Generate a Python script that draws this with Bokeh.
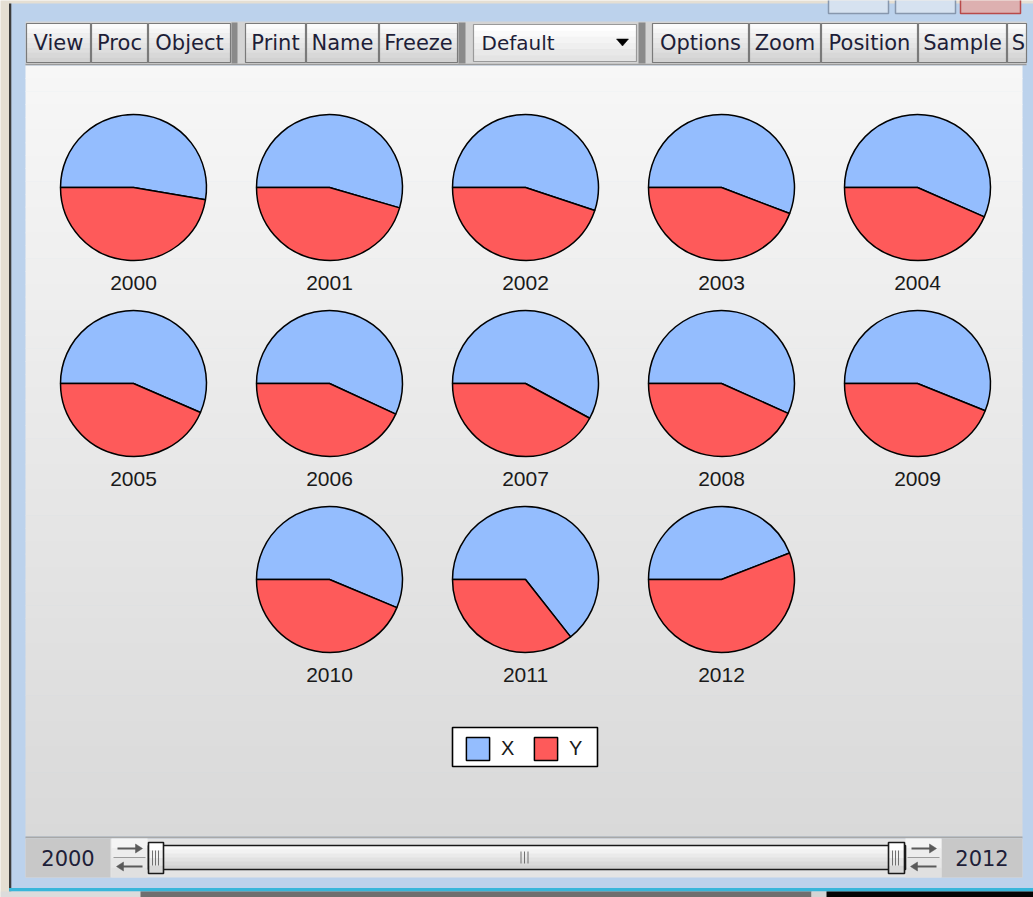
import math
from bokeh.plotting import figure
from bokeh.models import Range1d, ColumnDataSource, Legend, LegendItem
from bokeh.core.properties import value
from bokeh.embed import file_html
from bokeh.resources import INLINE

# ---------------- data ----------------
years = ["2000", "2001", "2002", "2003", "2004", "2005", "2006",
         "2007", "2008", "2009", "2010", "2011", "2012"]
x_values = [52.7, 54.5, 55.1, 55.8, 56.6, 56.5, 56.9, 57.9, 56.7, 56.1, 56.3, 64.4, 44.1]
y_values = [47.3, 45.5, 44.9, 44.2, 43.4, 43.5, 43.1, 42.1, 43.3, 43.9, 43.7, 35.6, 55.9]
series_names = ["X", "Y"]
series_colors = ["#94BDFE", "#FE5A5A"]
toolbar_labels = ["View", "Proc", "Object", "Print", "Name", "Freeze",
                  "Options", "Zoom", "Position", "Sample", "S"]
dropdown_label = "Default"
sample_start = "2000"
sample_end = "2012"

# ---------------- layout helpers ----------------
W, H = 1033, 897  # data y = H - screen y
p = figure(width=W, height=H,
           x_range=Range1d(0, W), y_range=Range1d(0, H),
           output_backend="svg", toolbar_location=None,
           x_axis_location=None, y_axis_location=None,
           min_border=0, outline_line_color=None,
           background_fill_color="#E5DFD3", border_fill_color="#E5DFD3")
p.grid.visible = False

Q = dict(left=[], right=[], top=[], bottom=[], fill=[], fa=[], line=[], la=[], lw=[])


def rect(x0, y0, x1, y1, fill=None, line=None, lw=1.0):
    Q["left"].append(x0); Q["right"].append(x1)
    Q["top"].append(H - y0); Q["bottom"].append(H - y1)
    Q["fill"].append(fill or "#FFFFFF"); Q["fa"].append(1.0 if fill else 0.0)
    Q["line"].append(line or "#000000"); Q["la"].append(1.0 if line else 0.0)
    Q["lw"].append(lw)


def hexmix(c0, c1, t):
    a = [int(c0[i:i + 2], 16) for i in (1, 3, 5)]
    b = [int(c1[i:i + 2], 16) for i in (1, 3, 5)]
    return "#%02X%02X%02X" % tuple(round(a[k] + (b[k] - a[k]) * t) for k in range(3))


def grad(x0, y0, x1, y1, c0, c1, n):
    h = (y1 - y0) / n
    for k in range(n):
        t = k / (n - 1) if n > 1 else 0
        yy1 = y0 + (k + 1) * h + (0.6 if k < n - 1 else 0)
        rect(x0, y0 + k * h, x1, yy1, fill=hexmix(c0, c1, t))


SEG = dict(x0=[], y0=[], x1=[], y1=[], c=[], w=[])


def seg(x0, y0, x1, y1, c="#000000", w=1.0):
    SEG["x0"].append(x0); SEG["y0"].append(H - y0)
    SEG["x1"].append(x1); SEG["y1"].append(H - y1)
    SEG["c"].append(c); SEG["w"].append(w)


PAT = dict(xs=[], ys=[], c=[])


def tri(pts, c):
    PAT["xs"].append([q[0] for q in pts]); PAT["ys"].append([H - q[1] for q in pts]); PAT["c"].append(c)


# ---------------- window chrome ----------------
rect(10, 3, 1040, 891, fill="#BCD2EC")
rect(8.5, 3, 10.8, 891, fill="#3C3C3C")
# caption buttons
rect(828, -5, 888, 13, fill="#D6E2F0", line="#8797AD", lw=1.5)
rect(895, -5, 955, 13, fill="#D6E2F0", line="#8797AD", lw=1.5)
rect(960, -5, 1020, 13, fill="#DDB0B0", line="#B84A4A", lw=1.5)

# toolbar
rect(25, 21, 1026, 64, fill="#D4D4D4")
buttons = [(26, 90), (91, 147), (148, 230), (245, 305), (306, 378), (379, 457),
           (652, 748), (749, 820), (821, 917), (918, 1006), (1007, 1026)]
for (a, b) in buttons:
    grad(a, 23, b, 62, "#FBFBFB", "#D2D2D2", 8)
    rect(a, 23, b, 62, line="#7A7A7A", lw=1.2)
for (a, b) in [(231, 237), (458, 465), (638, 645)]:
    rect(a, 22, b, 63, fill="#8A8A8A")
# dropdown
grad(473, 24, 636, 61, "#FFFFFF", "#E4E4E4", 6)
rect(473, 24, 636, 61, line="#9A9A9A", lw=1.2)
tri([(616, 38.5), (628, 38.5), (622, 45.5)], "#000000")
seg(25, 64, 1026, 64, "#9A9A9A", 1.5)

# content gradient
grad(25, 65, 1022, 836, "#F7F7F7", "#D9D9D9", 60)

# bottom sample slider row
rect(25, 836, 1022, 838, fill="#A8A8A8")
rect(25, 838, 1022, 877, fill="#E4E4E4")
rect(25, 838, 110, 877, fill="#C8C8C8")
rect(941, 838, 1022, 877, fill="#C8C8C8")
for (a, b) in [(111, 147), (905, 941)]:
    grad(a, 838, b, 877, "#F4F4F4", "#E0E0E0", 4)
    seg(a + 2, 857, b - 2, 857, "#9C9C9C", 1.2)
    seg(a + 6, 848, b - 9, 848, "#5A5A5A", 2)
    tri([(b - 12, 843.5), (b - 12, 852.5), (b - 5, 848)], "#5A5A5A")
    seg(a + 9, 866, b - 5, 866, "#5A5A5A", 2)
    tri([(a + 12, 861.5), (a + 12, 870.5), (a + 5, 866)], "#5A5A5A")
grad(148, 845, 905, 869, "#FAFAFA", "#D2D2D2", 6)
rect(148, 845, 905, 869, line="#1A1A1A", lw=1.6)
for (a, b) in [(148, 163), (888, 904)]:
    grad(a, 842, b, 873, "#FFFFFF", "#D8D8D8", 4)
    rect(a, 842, b, 873, line="#1A1A1A", lw=1.6)
    for dx in (4, 7, 10):
        seg(a + dx, 850, a + dx, 865, "#707070", 1)
for xx in (520.5, 524, 527.5):
    seg(xx, 851, xx, 863, "#707070", 1)
# bottom edge / taskbar strip
rect(8.5, 887.5, 1040, 891, fill="#38B6DA")
rect(0, 891, 140, 900, fill="#DCDCDC")
rect(140, 891, 811, 900, fill="#6F6F6F")
rect(811, 891, 826, 900, fill="#D4D4D4")
rect(826, 891, 1040, 900, fill="#050505")

# legend frame (legend items drawn by bokeh Legend)
rect(452, 727, 597, 766, fill="#FFFFFF", line="#000000", lw=1.6)

p.quad(left="left", right="right", top="top", bottom="bottom", source=ColumnDataSource(Q),
       fill_color="fill", fill_alpha="fa", line_color="line", line_alpha="la", line_width="lw")
p.segment(x0="x0", y0="y0", x1="x1", y1="y1", source=ColumnDataSource(SEG),
          line_color="c", line_width="w")
p.patches(xs="xs", ys="ys", source=ColumnDataSource(PAT), fill_color="c", line_color="c", line_width=0.5)

# chrome texts
tb_x = [(a + b) / 2 for (a, b) in buttons]
tb_x[-1] = 1018
p.text(x=tb_x, y=[H - 42] * len(toolbar_labels), text=toolbar_labels,
       text_font=value("DejaVu Sans"), text_font_size="21px", text_color="#1E1E38",
       text_align="center", text_baseline="middle")
p.text(x=[481], y=[H - 42], text=[dropdown_label], text_font=value("DejaVu Sans"),
       text_font_size="20px", text_color="#1E1E38", text_align="left", text_baseline="middle")
p.text(x=[67.5, 981.5], y=[H - 857, H - 857], text=[sample_start, sample_end],
       text_font=value("DejaVu Sans"), text_font_size="21px", text_color="#1E1E38",
       text_align="center", text_baseline="middle")

# ---------------- pies ----------------
slots = [0, 1, 2, 3, 4, 5, 6, 7, 8, 9, 11, 12, 13]
cx = [133 + 196 * (s % 5) for s in slots]
cy = [H - (187 + 196 * (s // 5)) for s in slots]
a0 = [math.pi - 2 * math.pi * xv / (xv + yv) for xv, yv in zip(x_values, y_values)]
src = ColumnDataSource(dict(cx=cx, cy=cy, ly=[c - 95 for c in cy], year=years,
                            xs=a0, xe=[math.pi] * len(a0),
                            ys=[-math.pi] * len(a0), ye=a0))
rX = p.wedge(x="cx", y="cy", radius=73, start_angle="xs", end_angle="xe", source=src,
             fill_color=series_colors[0], line_color="#000000", line_width=1.5)
rY = p.wedge(x="cx", y="cy", radius=73, start_angle="ys", end_angle="ye", source=src,
             fill_color=series_colors[1], line_color="#000000", line_width=1.5)
p.text(x="cx", y="ly", text="year", source=src, text_font=value("Liberation Sans"),
       text_font_size="21px", text_color="#1A1A1A", text_align="center", text_baseline="middle")

legend = Legend(items=[LegendItem(label=series_names[0], renderers=[rX]),
                       LegendItem(label=series_names[1], renderers=[rY])],
                orientation="horizontal", location=(463, 134),
                glyph_width=29, glyph_height=29, label_standoff=9, spacing=16,
                padding=11, margin=0, label_width=14,
                border_line_color=None, background_fill_alpha=0,
                label_text_font="Liberation Sans", label_text_font_size="20px",
                label_text_color="#1A1A1A")
p.add_layout(legend)

open("out.html", "w").write(file_html(p, INLINE))
